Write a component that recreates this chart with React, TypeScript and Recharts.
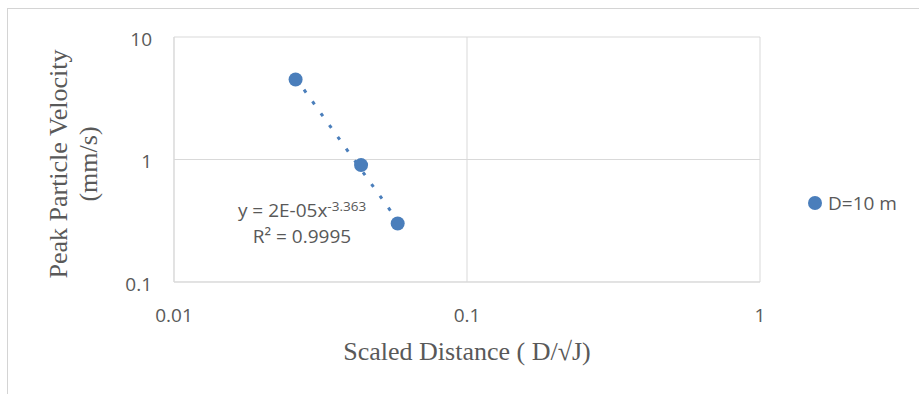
// Peak particle velocity vs scaled distance, log-log scatter with a power trendline.

import { ScatterChart, Scatter, XAxis, YAxis, CartesianGrid, Legend, Label } from 'recharts';

const scaledDistance = [0.026, 0.0435, 0.058];
const ppv = [4.5, 0.9, 0.3];
const xTicks = [0.01, 0.1, 1];
const yTicks = [0.1, 1, 10];
const seriesName = 'D=10 m';

const BLUE = '#4A7EBB';
const TEXT = '#595959';
const GRID = '#d9d9d9';
const SANS = '"Open Sans", sans-serif';
const SERIF = '"Liberation Serif", "Times New Roman", serif';

const points = scaledDistance.map((x, i) => ({ x, y: ppv[i] }));

// least squares power fit (straight line in log-log), spanning the data range
function powerFit(xs: number[], ys: number[]) {
  const lx = xs.map(Math.log);
  const ly = ys.map(Math.log);
  const n = xs.length;
  const mx = lx.reduce((a, b) => a + b, 0) / n;
  const my = ly.reduce((a, b) => a + b, 0) / n;
  let sxy = 0;
  let sxx = 0;
  for (let i = 0; i < n; i++) {
    sxy += (lx[i] - mx) * (ly[i] - my);
    sxx += (lx[i] - mx) * (lx[i] - mx);
  }
  const b = sxy / sxx;
  const a = Math.exp(my - b * mx);
  return (x: number) => a * Math.pow(x, b);
}

const fit = powerFit(scaledDistance, ppv);
const trend = [Math.min(...scaledDistance), Math.max(...scaledDistance)].map((x) => ({ x, y: fit(x) }));

const tickStyle = { fill: TEXT, fontSize: 19, fontFamily: SANS };

function YTitle() {
  return (
    <text
      x={67}
      y={164}
      transform="rotate(-90 67 164)"
      textAnchor="middle"
      fill={TEXT}
      fontFamily={SERIF}
      fontSize={26}
    >
      <tspan x={67}>Peak Particle Velocity</tspan>
      <tspan x={67} dy={30}>(mm/s)</tspan>
    </text>
  );
}

function XTitle() {
  return (
    <text x={467} y={360} textAnchor="middle" fill={TEXT} fontFamily={SERIF} fontSize={26}>
      Scaled Distance ( D/√J)
    </text>
  );
}

export default function App() {
  return (
    <div style={{ position: 'absolute', left: 0, top: 0, width: 919, height: 394 }}>
      <div
        style={{
          position: 'absolute',
          left: 7,
          top: 8,
          width: 912,
          height: 386,
          boxSizing: 'border-box',
          borderLeft: '1px solid #d4d4d4',
          borderTop: '1px solid #d4d4d4',
        }}
      />
      <ScatterChart width={919} height={394} margin={{ top: 37, right: 159, bottom: 82, left: 114 }}>
        <CartesianGrid stroke={GRID} />
        <XAxis
          type="number"
          dataKey="x"
          scale="log"
          domain={[0.01, 1]}
          ticks={xTicks}
          height={30}
          tickLine={false}
          tickMargin={21}
          axisLine={{ stroke: GRID }}
          tick={tickStyle}
        >
          <Label content={() => <XTitle />} />
        </XAxis>
        <YAxis
          type="number"
          dataKey="y"
          scale="log"
          domain={[0.1, 10]}
          ticks={yTicks}
          width={60}
          tickLine={false}
          tickMargin={16}
          axisLine={{ stroke: GRID }}
          tick={{ ...tickStyle, dy: 2 }}
        >
          <Label content={() => <YTitle />} />
        </YAxis>
        <Scatter
          name="trend"
          data={trend}
          legendType="none"
          line={{ stroke: BLUE, strokeWidth: 3, strokeDasharray: '3.5 11' }}
          shape={() => <g />}
          isAnimationActive={false}
        />
        <Scatter
          name={seriesName}
          data={points}
          fill={BLUE}
          shape={(p: any) => <circle cx={p.cx} cy={p.cy} r={7} fill={BLUE} />}
          isAnimationActive={false}
        />
        <Legend
          layout="horizontal"
          align="center"
          verticalAlign="middle"
          width={120}
          wrapperStyle={{ left: 808, top: 190 }}
          content={({ payload }: any) => (
            <div>
              {(payload || [])
                .filter((e: any) => e.type !== 'none')
                .map((e: any) => (
                  <div
                    key={e.value}
                    style={{
                      display: 'flex',
                      alignItems: 'center',
                      gap: 6,
                      fontFamily: SANS,
                      fontSize: 19,
                      lineHeight: '26px',
                      color: TEXT,
                    }}
                  >
                    <svg width={14} height={14}>
                      <circle cx={7} cy={7} r={7} fill={BLUE} />
                    </svg>
                    <span>{e.value}</span>
                  </div>
                ))}
            </div>
          )}
        />
      </ScatterChart>
      <div
        style={{
          position: 'absolute',
          left: 202,
          top: 197,
          width: 200,
          textAlign: 'center',
          fontFamily: SANS,
          fontSize: 19,
          lineHeight: '26px',
          color: TEXT,
        }}
      >
        <div>
          y = 2E-05x
          <span style={{ fontSize: 13.5, lineHeight: 0, verticalAlign: '6.5px' }}>-3.363</span>
        </div>
        <div>R² = 0.9995</div>
      </div>
    </div>
  );
}
